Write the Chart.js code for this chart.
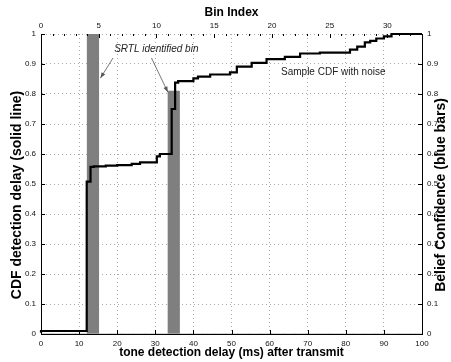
<!DOCTYPE html>
<html>
<head>
<meta charset="utf-8">
<script src="https://cdn.jsdelivr.net/npm/chart.js@4"></script>
<style>
  html, body { margin: 0; padding: 0; background: #fff; }
  #wrap { width: 451px; height: 362px; }
</style>
</head>
<body>
<div id="wrap"><canvas id="cdf-chart" width="451" height="362"></canvas></div>
<script>
// CDF of tone detection delay (ms), stepped
const delayMs = [0, 12, 13, 13.9, 17, 20, 23.8, 26, 30.4, 31.2, 34.3, 35.2, 36.0, 40, 41.2, 44.4, 49.6, 51.4, 55.3, 59.2, 64, 68, 73.2, 81.1, 83, 85, 86.4, 88, 90, 92, 94.2, 100];
const cdfValues = [0.004, 0.01, 0.508, 0.557, 0.559, 0.561, 0.563, 0.567, 0.572, 0.592, 0.600, 0.750, 0.838, 0.843, 0.852, 0.858, 0.865, 0.872, 0.891, 0.904, 0.916, 0.924, 0.935, 0.938, 0.948, 0.958, 0.972, 0.977, 0.985, 0.992, 1.0, 1.0];

// belief confidence per bin (33 bins across 0..100 ms)
const binCount = 33;
const beliefConfidence = [0, 0, 0, 0, 1.0, 0, 0, 0, 0, 0, 0, 0.81, 0, 0, 0, 0, 0, 0, 0, 0, 0, 0, 0, 0, 0, 0, 0, 0, 0, 0, 0, 0, 0];

const delayTicks = [0, 10, 20, 30, 40, 50, 60, 70, 80, 90, 100];
const binTicks = [0, 5, 10, 15, 20, 25, 30];

const FONT = "'Liberation Sans', Arial, sans-serif";

// text + arrows placed in data coordinates (ms, cdf)
const notes = [
  { text: "SRTL identified bin", x: 19.2, y: 0.95, italic: true },
  { text: "Sample CDF with noise", x: 63.0, y: 0.874, italic: false }
];
const arrows = [
  { from: [18.9, 0.92], to: [15.6, 0.853] },
  { from: [29.0, 0.92], to: [33.3, 0.806] }
];

function sideTitle(ctx, text, cx, cy) {
  ctx.save();
  ctx.fillStyle = "#000";
  ctx.font = "bold 14px " + FONT;
  ctx.textAlign = "center";
  ctx.textBaseline = "middle";
  ctx.translate(cx, cy);
  ctx.rotate(-Math.PI / 2);
  ctx.fillText(text, 0, 0);
  ctx.restore();
}

const extras = {
  id: "extras",
  afterDraw(chart) {
    const ctx = chart.ctx;
    const x = chart.scales.x, y = chart.scales.y, xb = chart.scales.xBin;
    const area = chart.chartArea;
    ctx.save();

    // inward tick marks
    ctx.strokeStyle = "#000";
    ctx.lineWidth = 1;
    ctx.beginPath();
    delayTicks.forEach(t => {
      const px = Math.round(x.getPixelForValue(t)) + 0.5;
      ctx.moveTo(px, area.bottom); ctx.lineTo(px, area.bottom - 4);
    });
    for (let i = 0; i <= 10; i++) {
      const py = Math.round(y.getPixelForValue(i / 10)) + 0.5;
      ctx.moveTo(area.left, py); ctx.lineTo(area.left + 4, py);
      ctx.moveTo(area.right, py); ctx.lineTo(area.right - 4, py);
    }
    for (let i = 0; i <= binCount; i++) {
      const px = Math.round(xb.getPixelForValue(i)) + 0.5;
      ctx.moveTo(px, area.top); ctx.lineTo(px, area.top + (i % 5 === 0 ? 4 : 2));
    }
    ctx.stroke();

    // annotations
    ctx.fillStyle = "#222";
    ctx.textBaseline = "middle";
    ctx.textAlign = "left";
    notes.forEach(n => {
      ctx.font = (n.italic ? "italic " : "") + "10px " + FONT;
      ctx.fillText(n.text, x.getPixelForValue(n.x), y.getPixelForValue(n.y));
    });

    ctx.strokeStyle = "#555";
    ctx.fillStyle = "#555";
    ctx.lineWidth = 0.8;
    arrows.forEach(a => {
      const x1 = x.getPixelForValue(a.from[0]), y1 = y.getPixelForValue(a.from[1]);
      const x2 = x.getPixelForValue(a.to[0]), y2 = y.getPixelForValue(a.to[1]);
      ctx.beginPath(); ctx.moveTo(x1, y1); ctx.lineTo(x2, y2); ctx.stroke();
      const ang = Math.atan2(y2 - y1, x2 - x1);
      ctx.beginPath();
      ctx.moveTo(x2, y2);
      ctx.lineTo(x2 - 6 * Math.cos(ang - 0.35), y2 - 6 * Math.sin(ang - 0.35));
      ctx.lineTo(x2 - 6 * Math.cos(ang + 0.35), y2 - 6 * Math.sin(ang + 0.35));
      ctx.closePath(); ctx.fill();
    });
    ctx.restore();

    // side axis titles, both reading bottom to top like the original
    sideTitle(ctx, "CDF detection delay (solid line)", 17, 195);
    sideTitle(ctx, "Belief Confidence (blue bars)", 441, 195);
  }
};

const tickFont = { family: FONT, size: 8 };
const titleFont = { family: FONT, size: 12, weight: "bold" };

new Chart(document.getElementById("cdf-chart").getContext("2d"), {
  type: "line",
  data: {
    datasets: [
      {
        label: "Sample CDF with noise",
        type: "line",
        data: delayMs.map((d, i) => ({ x: d, y: cdfValues[i] })),
        xAxisID: "x",
        yAxisID: "y",
        stepped: "after",
        borderColor: "#000",
        borderWidth: 2.2,
        pointRadius: 0,
        fill: false,
        clip: 4,
        order: 0
      },
      {
        label: "Belief confidence",
        type: "bar",
        data: beliefConfidence.map((v, i) => ({ x: i + 0.5, y: v })),
        xAxisID: "xBin",
        yAxisID: "yBelief",
        backgroundColor: "#7f7f7f",
        borderWidth: 0,
        grouped: false,
        barPercentage: 1,
        categoryPercentage: 1,
        order: 1
      }
    ]
  },
  options: {
    responsive: false,
    animation: false,
    layout: { padding: 0 },
    plugins: {
      legend: { display: false },
      tooltip: { enabled: false }
    },
    scales: {
      x: {
        type: "linear",
        position: "bottom",
        min: 0,
        max: 100,
        offset: false,
        afterBuildTicks: s => { s.ticks = delayTicks.map(v => ({ value: v })); },
        afterFit: s => { s.height = 28; },
        ticks: { color: "#111", font: tickFont, padding: 5, maxRotation: 0 },
        grid: { color: "#aaa", drawTicks: false },
        border: { color: "#000", dash: [1, 3] },
        title: { display: true, text: "tone detection delay (ms) after transmit", color: "#000", font: titleFont, padding: { top: 0, bottom: 2 } }
      },
      xBin: {
        type: "linear",
        position: "top",
        min: 0,
        max: binCount,
        offset: false,
        afterBuildTicks: s => { s.ticks = binTicks.map(v => ({ value: v })); },
        afterFit: s => { s.height = 34; },
        ticks: { color: "#111", font: tickFont, padding: 3, maxRotation: 0 },
        grid: { drawOnChartArea: false, drawTicks: false },
        border: { display: false },
        title: { display: true, text: "Bin Index", color: "#000", font: titleFont, padding: { top: 5, bottom: 0 } }
      },
      y: {
        type: "linear",
        position: "left",
        min: 0,
        max: 1,
        afterBuildTicks: s => { s.ticks = Array.from({ length: 11 }, (_, i) => ({ value: i / 10 })); },
        afterFit: s => { s.width = 41; },
        ticks: { color: "#111", font: tickFont, padding: 5, callback: v => String(Math.round(v * 10) / 10) },
        grid: { color: "#aaa", drawTicks: false },
        border: { color: "#000", dash: [1, 3] }
      },
      yBelief: {
        type: "linear",
        position: "right",
        min: 0,
        max: 1,
        afterBuildTicks: s => { s.ticks = Array.from({ length: 11 }, (_, i) => ({ value: i / 10 })); },
        afterFit: s => { s.width = 29; },
        ticks: { color: "#111", font: tickFont, padding: 5, callback: v => String(Math.round(v * 10) / 10) },
        grid: { drawOnChartArea: false, drawTicks: false },
        border: { color: "#000" }
      }
    }
  },
  plugins: [extras]
});
</script>
</body>
</html>
